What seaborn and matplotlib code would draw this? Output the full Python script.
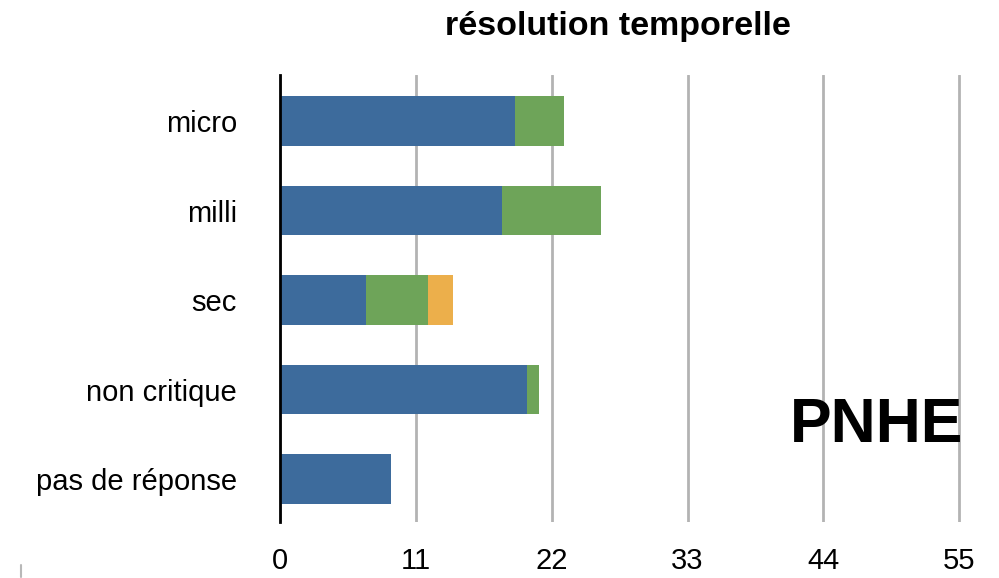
import matplotlib
matplotlib.use("Agg")
import matplotlib.pyplot as plt
from matplotlib.lines import Line2D
import numpy as np
import pandas as pd
import seaborn as sns

categories = ["micro", "milli", "sec", "non critique", "pas de réponse"]
blue_vals = [19, 18, 7, 20, 9]
green_vals = [4, 8, 5, 1, 0]
orange_vals = [0, 0, 2, 0, 0]
x_ticks = [0, 11, 22, 33, 44, 55]

BLUE = "#3D6B9C"
GREEN = "#6EA459"
ORANGE = "#ECAF4B"

sns.set_theme(style="white")
plt.rcParams["font.family"] = ["Liberation Sans", "DejaVu Sans"]

W, H = 999, 578
fig = plt.figure(figsize=(W / 100, H / 100), dpi=100)
left, right, top, bottom = 280, 280 + 56 * 12.35, 75, 522
ax = fig.add_axes([left / W, 1 - bottom / H, (right - left) / W, (bottom - top) / H])

df = pd.DataFrame({
    "cat": categories,
    "blue": blue_vals,
    "green": green_vals,
    "orange": orange_vals,
})
df["c_green"] = df["blue"] + df["green"]
df["c_orange"] = df["c_green"] + df["orange"]

# stacked bars: draw cumulative totals from the back to the front
for col, color in [("c_orange", ORANGE), ("c_green", GREEN), ("blue", BLUE)]:
    sns.barplot(data=df, y="cat", x=col, orient="h", color=color,
                width=0.55, saturation=1, edgecolor="none", linewidth=0,
                ax=ax, zorder=3)

ax.set_xlim(0, 56)
ax.set_ylim(4.48, -0.515)
ax.set_xticks(x_ticks)
ax.set_xticklabels([str(t) for t in x_ticks])
ax.set_xlabel("")
ax.set_ylabel("")

ax.xaxis.grid(True, color="#b3b3b3", linewidth=2, zorder=0)
ax.yaxis.grid(False)
ax.set_axisbelow(True)
for s in ["top", "right", "bottom"]:
    ax.spines[s].set_visible(False)
ax.spines["left"].set_color("black")
ax.spines["left"].set_linewidth(2)
ax.spines["left"].set_zorder(5)

ax.tick_params(axis="x", length=0, pad=18, labelsize=21, labelcolor="black")
ax.tick_params(axis="y", length=0, pad=31, labelsize=21, labelcolor="black")

fig.text(618 / W, 1 - 27 / H, "résolution temporelle", fontsize=24.5,
         fontweight="bold", color="black", ha="center", va="center")

fig.text(963 / W, 1 - 426 / H, "PNHE", fontsize=45, fontweight="bold",
         ha="right", va="center", color="black")

fig.add_artist(Line2D([21 / W, 21 / W], [1 - 565 / H, 1 - 577 / H],
                      color="#b8b8b8", linewidth=1.5))

fig.savefig("out.png", dpi=100)
